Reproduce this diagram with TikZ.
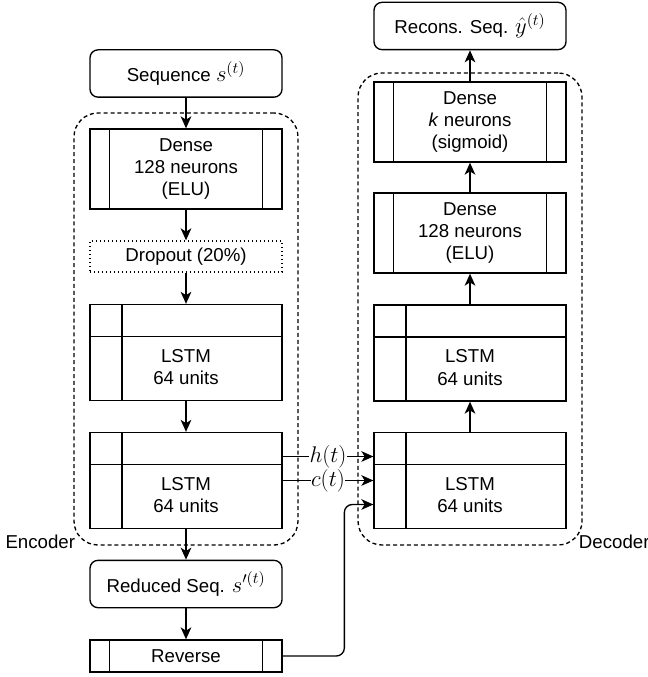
\RequirePackage{fix-cm}
\documentclass[tikz,border=0pt]{standalone}
\usepackage{fontspec}
\setmainfont{Liberation Sans}
\usetikzlibrary{arrows.meta}
\newcommand{\boxfont}{\fontsize{14}{16.8}\selectfont}
\newcommand{\statefont}{\fontsize{17}{19}\selectfont}
\newcommand{\seqmath}[1]{{\statefont$#1$}}
\tikzset{
    box/.style={draw, line width=1pt, minimum width=144pt, inner sep=0pt, align=center, font=\boxfont},
    roundbox/.style={box, rounded corners=6pt, minimum height=35.5pt},
    densebox/.style={box, minimum height=60pt, path picture={
        \draw[line width=1pt] ([xshift=14.5pt]path picture bounding box.north west) -- ([xshift=14.5pt]path picture bounding box.south west);
        \draw[line width=1pt] ([xshift=-14.5pt]path picture bounding box.north east) -- ([xshift=-14.5pt]path picture bounding box.south east);
    }},
    lstmbox/.style={box, minimum height=72pt, path picture={
        \draw[line width=1pt] ([xshift=24pt]path picture bounding box.north west) -- ([xshift=24pt]path picture bounding box.south west);
        \draw[line width=1pt] ([yshift=-24pt]path picture bounding box.north west) -- ([yshift=-24pt]path picture bounding box.north east);
    }, label={[font=\boxfont, align=center, yshift=-11pt]center:{LSTM\\64 units}}},
    dropbox/.style={box, dotted, minimum height=23.25pt},
    group/.style={draw, line width=1pt, dash pattern=on 3pt off 2.2pt, rounded corners=18pt, minimum width=168pt},
    grouplabel/.style={font=\boxfont, inner sep=0pt, yshift=3pt},
    flow/.style={-{Stealth[length=9pt, width=8pt, inset=2.5pt]}, line width=1pt},
}
\begin{document}
\begin{tikzpicture}[x=0.75pt, y=-0.75pt]
    \useasboundingbox (0,0) rectangle (647,677);

    % dashed groups
    \node[group, minimum height=324pt] (enc) at (186,329) {};
    \node[group, minimum height=354pt] (dec) at (470,309) {};
    \node[grouplabel, anchor=east, xshift=1.5pt] (enclabel) at (enc.south west) {Encoder};
    \node[grouplabel, anchor=west, xshift=-3pt] (declabel) at (dec.south east) {Decoder};

    % encoder side
    \node[roundbox] (seq) at (186,73.5) {Sequence \seqmath{s^{(t)}}};
    \node[densebox] (edense) at (186,169) {Dense\\128 neurons\\(ELU)};
    \node[dropbox] (drop) at (186,256.5) {Dropout (20\%)};
    \node[lstmbox] (elstma) at (186,352.5) {};
    \node[lstmbox] (elstmb) at (186,480.5) {};
    \node[roundbox] (reduced) at (186,584) {Reduced Seq. \seqmath{s'^{(t)}}};
    \node[densebox, minimum height=24pt] (rev) at (186,656) {Reverse};

    % decoder side
    \node[roundbox] (recons) at (470,26) {Recons. Seq. \seqmath{\hat{y}^{(t)}}};
    \node[densebox] (dsig) at (470,122) {Dense\\\textit{k} neurons\\(sigmoid)};
    \node[densebox] (delu) at (470,233) {Dense\\128 neurons\\(ELU)};
    \node[lstmbox] (dlstma) at (470,353) {};
    \node[lstmbox] (dlstmb) at (470,480.5) {};

    \draw[flow] (seq) -- (edense);
    \draw[flow] (edense) -- (drop);
    \draw[flow] (drop) -- (elstma);
    \draw[flow] (elstma) -- (elstmb);
    \draw[flow] (elstmb) -- (reduced);
    \draw[flow] (reduced) -- (rev);

    \draw[flow] ([yshift=18pt]elstmb.east) -- node[fill=white, inner sep=0.5pt, font=\statefont] {$h(t)$} ([yshift=18pt]dlstmb.west);
    \draw[flow] (elstmb.east) -- node[fill=white, inner sep=0.5pt, font=\statefont] {$c(t)$} (dlstmb.west);
    \draw[flow, rounded corners=6pt] (rev.east) -| ([xshift=-21.75pt, yshift=-18pt]dlstmb.west) -- ([yshift=-18pt]dlstmb.west);

    \draw[flow] (dlstmb) -- (dlstma);
    \draw[flow] (dlstma) -- (delu);
    \draw[flow] (delu) -- (dsig);
    \draw[flow] (dsig) -- (recons);
\end{tikzpicture}
\end{document}
